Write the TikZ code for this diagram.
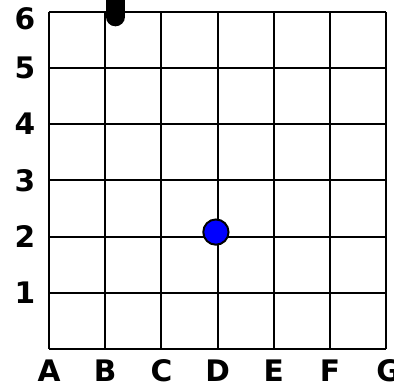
\documentclass[tikz,border=0pt]{standalone}
\usepackage{fontspec}
\setmainfont{DejaVu Sans}
\usetikzlibrary{positioning}
\definecolor{dotblue}{HTML}{0000FF}

\begin{document}
\begin{tikzpicture}[x=1cm, y=1cm,
    gridline/.style={black, line width=1pt},
    axislabel/.style={font=\bfseries\fontsize{15}{17}\selectfont, inner sep=0pt},
    piece/.style={circle, draw=black, line width=1pt, fill=dotblue, minimum size=0.45cm, inner sep=0pt}]
  % Page
  \useasboundingbox (-0.872,-0.694) rectangle (6.139,6.210);
  % Grid
  \draw[gridline] (0,0) grid (6,6);
  % Letters and numbers
  \foreach \l [count=\i from 0] in {A,B,C,D,E,F}
    \node[axislabel] (col\l) at (\i,-0.39) {\l};
  \node[axislabel] (colG) at (6.04,-0.39) {G};
  \foreach \n in {1,...,5}
    \node[axislabel] (row\n) at (-0.43,\n) {\n};
  \node[axislabel] (row6) at (-0.43,5.87) {6};
  % Bar at the top edge
  \begin{scope}
    \clip (-0.872,-0.694) rectangle (6.139,6.210);
    \coordinate (barend) at (1.18,5.91);
    \coordinate (bartop) at (1.18,6.6);
    \draw[black, line width=9.6pt, line cap=round] (barend) -- (bartop);
  \end{scope}
  % Piece
  \node[piece] (dot) at (2.97,2.08) {};
\end{tikzpicture}
\end{document}
